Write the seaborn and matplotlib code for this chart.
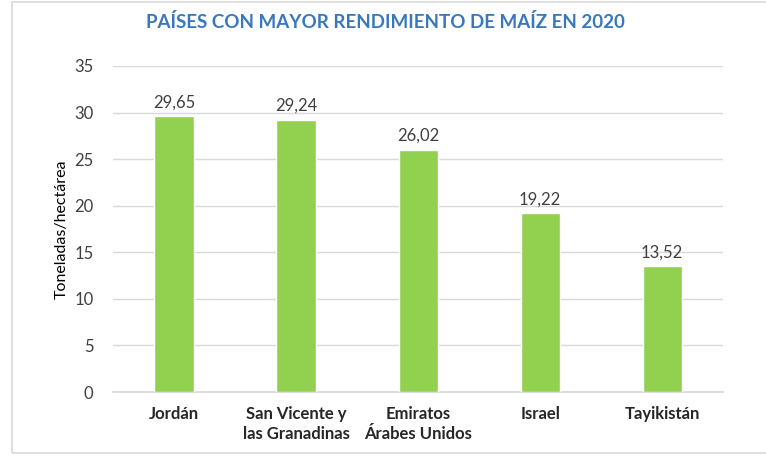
import pandas as pd
import seaborn as sns
import matplotlib.pyplot as plt
from matplotlib.patches import Rectangle

paises = ["Jordán", "San Vicente y\nlas Granadinas", "Emiratos\nÁrabes Unidos", "Israel", "Tayikistán"]
rendimiento = [29.65, 29.24, 26.02, 19.22, 13.52]
y_ticks = [0, 5, 10, 15, 20, 25, 30, 35]

df = pd.DataFrame({"pais": paises, "valor": rendimiento})

sns.set_theme(style="white")
plt.rcParams['font.family'] = ['Lato', 'DejaVu Sans']

fig = plt.figure(figsize=(7.66, 4.58), dpi=100)
ax = fig.add_axes([0.1475, 0.144, 0.7965, 0.712])

sns.barplot(data=df, x="pais", y="valor", color="#92D050", width=0.32,
            saturation=1, ax=ax, zorder=3)

ax.set_ylim(0, 35)
ax.set_yticks(y_ticks)
ax.set_yticklabels([str(t) for t in y_ticks], fontsize=12, color="#404040")
ax.yaxis.grid(True, color="#D9D9D9", linewidth=1, zorder=0)
ax.tick_params(axis="y", length=0, pad=14)
ax.tick_params(axis="x", length=0, pad=10)
for s in ["top", "right", "left"]:
    ax.spines[s].set_visible(False)
ax.spines["bottom"].set_color("#D9D9D9")
ax.set_xlabel("")
ax.set_ylabel("Toneladas/hectárea", fontsize=11.5, color="black", labelpad=4)
for lbl in ax.get_xticklabels():
    lbl.set_fontweight("bold")
    lbl.set_fontsize(12)
    lbl.set_color("#262626")
    lbl.set_linespacing(1.3)

for i, v in enumerate(rendimiento):
    ax.text(i, v + 0.6, f"{v:.2f}".replace(".", ","), ha="center", va="bottom",
            fontsize=12, color="#404040")

fig.text(0.503, 0.952, "PAÍSES CON MAYOR RENDIMIENTO DE MAÍZ EN 2020",
         ha="center", va="center", fontsize=13.5, fontweight="bold", color="#3A78BE")

fig.patches.append(Rectangle((12 / 766, 5 / 458), 1.2, 1 - 7 / 458,
                             transform=fig.transFigure, fill=False,
                             edgecolor="#D9D9D9", linewidth=1.2))

fig.savefig("out.png", dpi=100)
